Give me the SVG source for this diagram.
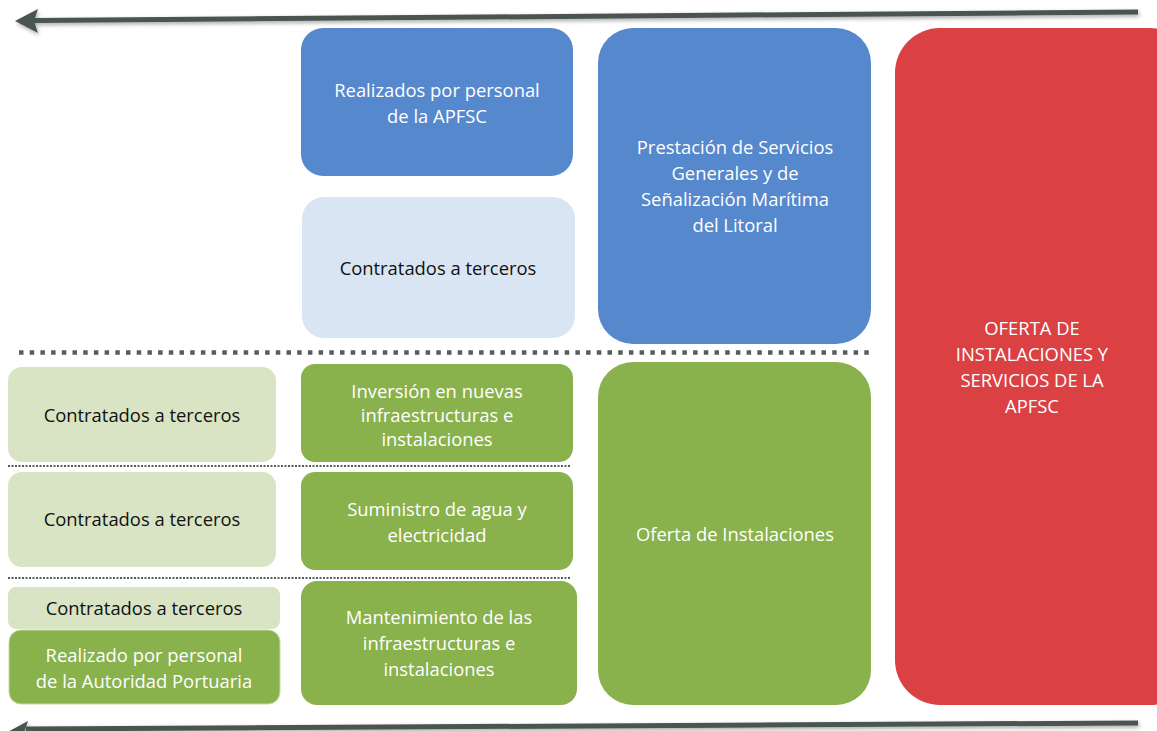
<svg xmlns="http://www.w3.org/2000/svg" width="1157" height="731" viewBox="0 0 1157 731">
<defs>
<style>
.t{font-family:"Open Sans","Liberation Sans",Arial,sans-serif;font-size:18.4px;text-anchor:middle}
.w{fill:#ffffff}
.k{fill:#111111}
.blue{fill:#5588cc}
.lblue{fill:#dae5f3}
.green{fill:#89b14c}
.lgreen{fill:#d8e4c4}
.red{fill:#db4043}
.arrow{stroke:#4b5450;stroke-width:5;fill:none}
.head{fill:#4b5450}
</style>
<filter id="sh" x="-5%" y="-100%" width="110%" height="300%">
<feGaussianBlur in="SourceAlpha" stdDeviation="2"/>
<feOffset dx="1" dy="2"/>
<feComponentTransfer><feFuncA type="linear" slope="0.35"/></feComponentTransfer>
<feMerge><feMergeNode/><feMergeNode in="SourceGraphic"/></feMerge>
</filter>
</defs>

<g id="connectors">
<g id="arrow-top" filter="url(#sh)">
<line class="arrow" x1="34" y1="20.5" x2="1138" y2="12"/>
<polygon class="head" points="15,21 38,9 34,21 38,33"/>
</g>
<g id="arrow-bottom" filter="url(#sh)">
<line class="arrow" x1="26" y1="729" x2="1138" y2="723"/>
<polygon class="head" points="4,734 28,721 24,733 28,745"/>
</g>
<line id="sep-thick" x1="19" y1="352.5" x2="874" y2="352.5" stroke="#555e5a" stroke-width="4.5" stroke-dasharray="4.5 6.2"/>
<line id="sep-1" x1="8" y1="466" x2="570" y2="466" stroke="#555e5a" stroke-width="2" stroke-dasharray="2 1.5"/>
<line id="sep-2" x1="8" y1="578" x2="570" y2="578" stroke="#555e5a" stroke-width="2" stroke-dasharray="2 1.5"/>
</g>

<g id="n-realizados-apfsc">
<rect class="blue" x="301" y="28" width="272" height="148" rx="22"/>
<text class="t w" x="437" y="97">Realizados por personal</text>
<text class="t w" x="437" y="123">de la APFSC</text>
</g>

<g id="n-contratados-blue">
<rect class="lblue" x="302" y="197" width="273" height="141" rx="22"/>
<text class="t k" x="438" y="275">Contratados a terceros</text>
</g>

<g id="n-prestacion">
<rect class="blue" x="598" y="28" width="273" height="316" rx="35"/>
<text class="t w" x="735" y="154">Prestación de Servicios</text>
<text class="t w" x="735" y="180">Generales y de</text>
<text class="t w" x="735" y="206">Señalización Marítima</text>
<text class="t w" x="735" y="232">del Litoral</text>
</g>

<g id="n-oferta-apfsc">
<rect class="red" x="895" y="28" width="300" height="677" rx="45"/>
<text class="t w" x="1032" y="335">OFERTA DE</text>
<text class="t w" x="1032" y="361">INSTALACIONES Y</text>
<text class="t w" x="1032" y="387">SERVICIOS DE LA</text>
<text class="t w" x="1032" y="413">APFSC</text>
</g>

<g id="n-oferta-instalaciones">
<rect class="green" x="598" y="362" width="273" height="343" rx="35"/>
<text class="t w" x="735" y="541">Oferta de Instalaciones</text>
</g>

<g id="n-inversion">
<rect class="green" x="301" y="364" width="272" height="98" rx="14"/>
<text class="t w" x="437" y="398">Inversión en nuevas</text>
<text class="t w" x="437" y="422">infraestructuras e</text>
<text class="t w" x="437" y="446">instalaciones</text>
</g>

<g id="n-suministro">
<rect class="green" x="301" y="472" width="272" height="98" rx="14"/>
<text class="t w" x="437" y="516">Suministro de agua y</text>
<text class="t w" x="437" y="542">electricidad</text>
</g>

<g id="n-mantenimiento">
<rect class="green" x="301" y="581" width="276" height="124" rx="16"/>
<text class="t w" x="439" y="624">Mantenimiento de las</text>
<text class="t w" x="439" y="650">infraestructuras e</text>
<text class="t w" x="439" y="676">instalaciones</text>
</g>

<g id="n-contratados-1">
<rect class="lgreen" x="8" y="367" width="268" height="95" rx="14"/>
<text class="t k" x="142" y="422">Contratados a terceros</text>
</g>

<g id="n-contratados-2">
<rect class="lgreen" x="8" y="472" width="268" height="95" rx="14"/>
<text class="t k" x="142" y="526">Contratados a terceros</text>
</g>

<g id="n-contratados-3">
<rect class="lgreen" x="8" y="587" width="272" height="42" rx="8"/>
<text class="t k" x="144" y="615">Contratados a terceros</text>
</g>

<g id="n-realizado-ap">
<rect class="green" x="9" y="630" width="271" height="74" rx="12" stroke="#c6d8a8" stroke-width="1"/>
<text class="t w" x="144" y="662">Realizado por personal</text>
<text class="t w" x="144" y="688">de la Autoridad Portuaria</text>
</g>
</svg>
